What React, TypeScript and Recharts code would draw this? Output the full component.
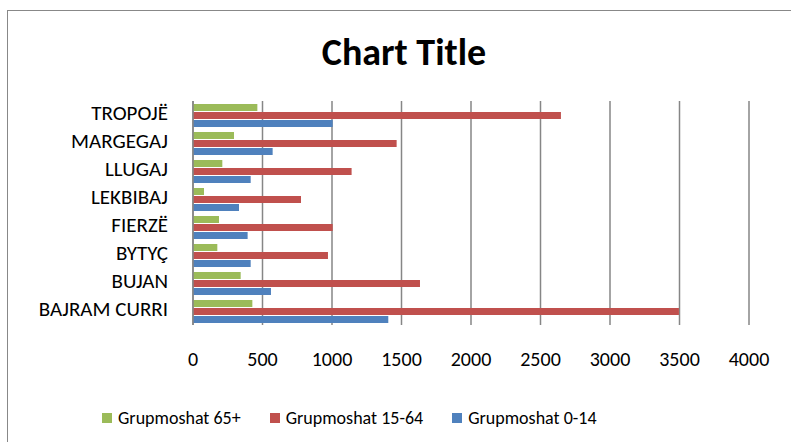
import React from 'react';
import { BarChart, Bar, XAxis, YAxis, CartesianGrid, Legend } from 'recharts';

const categories = ['BAJRAM CURRI', 'BUJAN', 'BYTYÇ', 'FIERZË', 'LEKBIBAJ', 'LLUGAJ', 'MARGEGAJ', 'TROPOJË'];
const age0to14 = [1405, 561, 415, 393, 331, 415, 573, 1005];
const age15to64 = [3496, 1633, 971, 1005, 777, 1141, 1465, 2647];
const age65plus = [427, 343, 175, 187, 79, 211, 295, 463];
const xTicks = [0, 500, 1000, 1500, 2000, 2500, 3000, 3500, 4000];

const data = categories.map((name, i) => ({
  name,
  a65: age65plus[i],
  a1564: age15to64[i],
  a014: age0to14[i],
}));

const font = "Carlito, 'Liberation Sans', sans-serif";

const legendItems = [
  { label: 'Grupmoshat 65+', color: '#9BBB59' },
  { label: 'Grupmoshat 15-64', color: '#C0504D' },
  { label: 'Grupmoshat 0-14', color: '#4F81BD' },
];

const LegendContent = () => (
  <div style={{ display: 'flex', justifyContent: 'flex-start', gap: '29px', fontFamily: font, fontSize: '18px', color: '#000', paddingLeft: '102px' }}>
    {legendItems.map((it) => (
      <div key={it.label} style={{ display: 'flex', alignItems: 'center', gap: '6px' }}>
        <div style={{ width: '10px', height: '10px', backgroundColor: it.color }} />
        <span>{it.label}</span>
      </div>
    ))}
  </div>
);

export default function App() {
  return (
    <div style={{ position: 'absolute', left: 0, top: 0, width: 791, height: 442, background: 'white', overflow: 'hidden' }}>
      <div style={{ position: 'absolute', left: 7, top: 10, width: 800, height: 450, border: '1px solid #888', boxSizing: 'border-box' }} />
      <div style={{ position: 'absolute', top: 29, left: 0, width: 808, textAlign: 'center', fontFamily: font, fontSize: '38px', fontWeight: 'bold', color: '#000' }}>
        Chart Title
      </div>
      <div style={{ position: 'absolute', left: 0, top: 0 }}>
        <BarChart
          width={791}
          height={442}
          data={data}
          layout="vertical"
          margin={{ top: 101, right: 42, bottom: 13, left: 0 }}
          barGap={1}
          barSize={7}
        >
          <CartesianGrid horizontal={false} stroke="#868686" strokeWidth={1.5} />
          <XAxis
            type="number"
            domain={[0, 4000]}
            ticks={xTicks}
            interval={0}
            axisLine={false}
            tickLine={false}
            height={82}
            tick={{ fill: '#000', fontSize: 20, fontFamily: font, dy: 19 }}
          />
          <YAxis
            type="category"
            dataKey="name"
            reversed
            interval={0}
            width={193}
            axisLine={{ stroke: '#868686', strokeWidth: 1.5 }}
            tickLine={false}
            tickMargin={19}
            tick={{ fill: '#000', fontSize: 21, fontFamily: font, dy: -2 }}
          />
          <Legend content={<LegendContent />} verticalAlign="bottom" />
          <Bar dataKey="a65" fill="#9BBB59" isAnimationActive={false} />
          <Bar dataKey="a1564" fill="#C0504D" isAnimationActive={false} />
          <Bar dataKey="a014" fill="#4F81BD" isAnimationActive={false} />
        </BarChart>
      </div>
    </div>
  );
}
